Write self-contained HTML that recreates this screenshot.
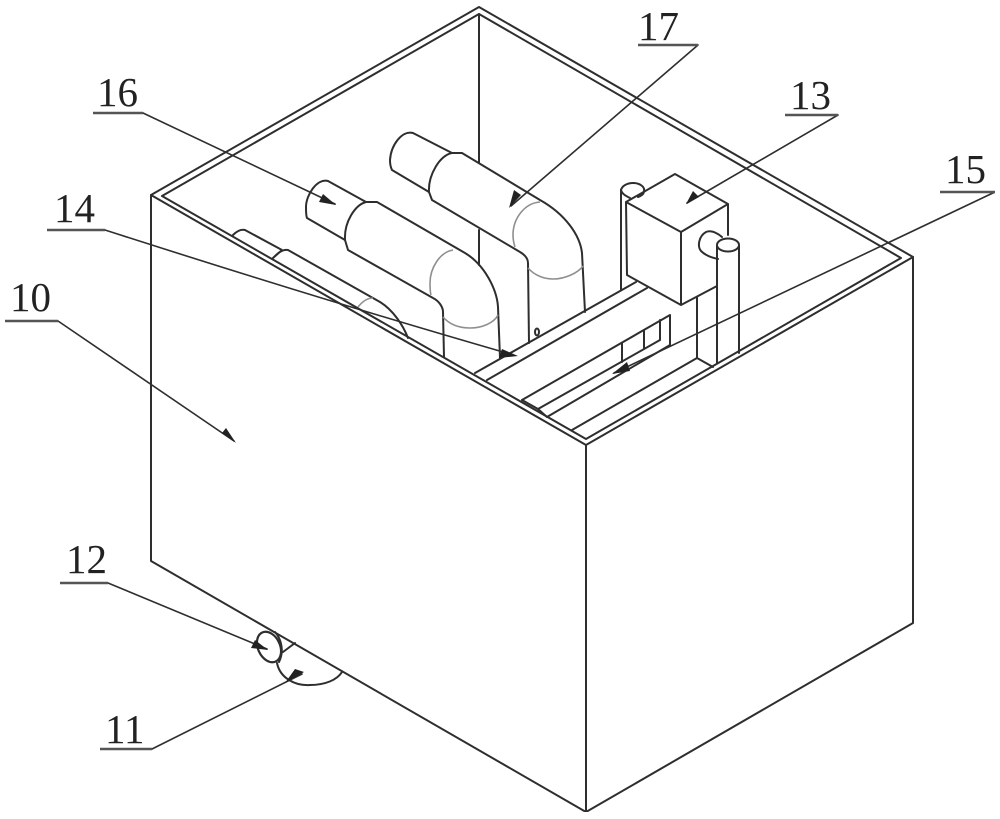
<!DOCTYPE html>
<html><head><meta charset="utf-8"><style>
html,body{margin:0;padding:0;background:#fff}
svg{display:block}
text{font-family:"Liberation Serif",serif;font-size:41px;fill:#222}
</style></head><body>
<svg width="1000" height="819" viewBox="0 0 1000 819" xmlns="http://www.w3.org/2000/svg">
<defs><filter id="b" x="0" y="0" width="100%" height="100%"><feGaussianBlur stdDeviation="0.35"/></filter></defs>
<g filter="url(#b)">
<g fill="none" stroke="#2e2e2e" stroke-width="2" stroke-linejoin="round" stroke-linecap="round">
<!-- box -->
<path d="M151 195L479 7L913 257L586 445Z"/>
<path d="M162 196L479 14L901 258L586 439Z"/>
<path d="M151 195V561L586 812L913 623V257"/>
<path d="M586 445V812"/>
<path d="M479 14V163M479 230V265"/>
<!-- pipe 17 -->
<path d="M452 153L413 133C402 130 391 145 390 160C390 165 391 168 392 170L429 192"/>
<path d="M429 192C428 175 440 155 452 153H462L540 200C565 214 580 235 582 253L585 312"/>
<path d="M429 192L432 200L520 252C525 255 528 259 528 263L529 343"/>
<!-- pipe 16 -->
<path d="M366 202L328 181C317 178 306 195 306 207C306 212 306 216 307 218L345 240"/>
<path d="M345 240C344 222 355 205 366 202H377L465 253C485 265 497 290 498 307L500 358"/>
<path d="M345 240L348 250L433 298C439 301 443 307 443 312L444 357"/>
<!-- pipe 14 -->
<path d="M233 235C237 231 241 229 245 230L282 250L273 258C277 254 282 249 288 250L380 302C393 310 403 325 408 338"/>
<!-- base -->
<path d="M475 373L636 282M487 380L647 288M522 400L670 315V345L547 417"/>
<path d="M538 409L660 340"/>
<path d="M522 400L538 409L547 417"/>
<path d="M622 343V362M644 330V348M660 320V340"/>
<path d="M572 430L697 358L713 367M697 297V358M717 287V363M739 247V353"/>
<ellipse cx="537" cy="332" rx="2" ry="3.5"/>
<!-- box 13 -->
<path d="M626 202L675 174L728 204L681 232ZM681 232V305M626 202L627 275L681 305L717 286M728 204V235"/>
<path d="M621 190V290"/>
<path d="M621 190C622 186 627 183 633 183C640 183 645 187 644 191C644 194 641 196 638 197"/>
<path d="M621 190C622 194 626 196 630 198"/>
<path d="M722 237C716 232 711 230 706 232C699 236 697 246 701 251C706 256 713 258 718 259"/>
<ellipse cx="728" cy="245" rx="11" ry="6.5" fill="#fff"/>
<path d="M717 246V287M739 246V260"/>
<!-- bottom fittings -->
<ellipse cx="269" cy="647" rx="11" ry="16" transform="rotate(-25 269 647)" stroke-width="2.2"/>
<path d="M275 632C282 640 284 652 279 662"/>
<path d="M283 652L295 643"/>
<path d="M277 663C280 678 295 686 310 685C325 685 337 680 342 672"/>
<!-- leaders -->
<g stroke-width="1.6">
<path d="M105 230C220 267 350 308 510 354"/>
<path d="M143 113L335 204"/>
<path d="M698 45L511 206"/>
<path d="M838 115L687 203"/>
<path d="M995 192L614 373"/>
<path d="M58 321L234 441"/>
<path d="M108 583L267 649"/>
<path d="M152 749L302 674"/>
</g>
<g stroke="#555" stroke-width="2.4" stroke-linecap="butt">
<path d="M47 230H105M93 113H143M638 45H698M785 115H838M940 192H995M5 321H58M60 583H108M100 749H152"/>
</g>
</g>
<g fill="#222">
<path d="M518 356L499 358L502 349Z"/>
<path d="M336 205L319 202L323 194Z"/>
<path d="M509 208L514 190L521 195Z"/>
<path d="M686 204L693 191L699 197Z"/>
<path d="M612 374L627 362L630 371Z"/>
<path d="M236 443L222 433L226 428Z"/>
<path d="M268 650L251 648L255 640Z"/>
<path d="M285 683L304 672L295 669Z"/>
</g>
<!-- grey arcs -->
<g fill="none" stroke="#8f8f8f" stroke-width="1.6">
<path d="M540 202C525 203 513 218 513 235C513 240 514 244 515 247"/>
<path d="M528 268C535 276 545 279 553 279C565 279 578 273 583 266"/>
<path d="M453 250C440 252 430 268 430 283C430 288 430 292 431 295"/>
<path d="M443 317C450 325 460 328 470 328C482 328 494 323 498 315"/>
<path d="M358 307C362 302 367 298 373 298"/>
</g>
<text x="97" y="106">16</text>
<text x="638" y="40">17</text>
<text x="790" y="109">13</text>
<text x="945" y="183">15</text>
<text x="54" y="222">14</text>
<text x="10" y="311">10</text>
<text x="66" y="573">12</text>
<text x="105" y="743">11</text>
</g>
</svg>
</body></html>
